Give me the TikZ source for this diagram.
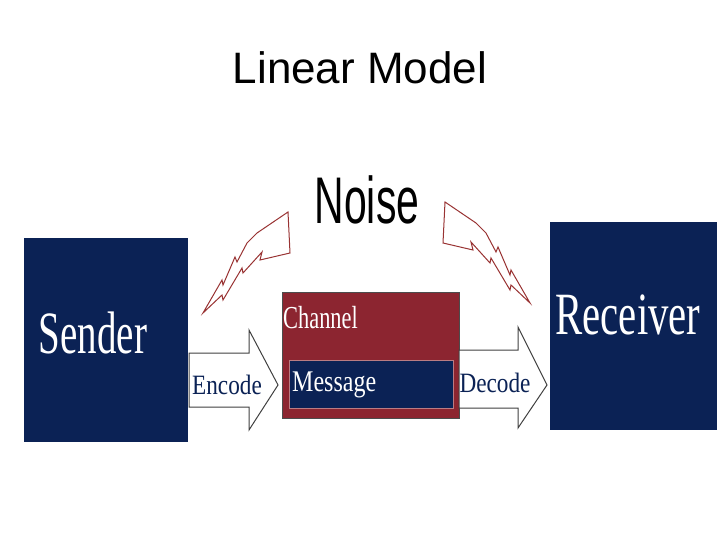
\documentclass[tikz,border=0pt]{standalone}
\usepackage{fontspec}
\setmainfont{Liberation Serif}
\newfontfamily\sansf{Liberation Sans}
\begin{document}
\begin{tikzpicture}[x=1pt,y=-1pt,
  box/.style={draw=black!70,line width=1pt},
  arr/.style={draw=black!75,line width=1pt,fill=white},
  bolt/.style={draw=red!50!black!80,line width=1pt,fill=white},
  wtxt/.style={text=white,inner sep=0pt}]
\definecolor{navy}{HTML}{0B2255}
\definecolor{wine}{HTML}{8C2530}
\useasboundingbox (0,0) rectangle (720,540);
\node[inner sep=0pt] (title) at (360,68) {\sansf\fontsize{44}{46}\selectfont Linear Model};
\node[inner sep=0pt] (noise) at (367,200) {\scalebox{0.62}[1]{\sansf\fontsize{66}{68}\selectfont Noise}};
% boxes
\fill[navy] (24,238) rectangle (188,442);
\node[wtxt] (sender) at (93,333) {\scalebox{0.65}[1]{\fontsize{60}{62}\selectfont Sender}};
\fill[navy] (550,222) rectangle (717,430);
\node[wtxt] (receiver) at (628,315) {\scalebox{0.68}[1]{\fontsize{60}{62}\selectfont Receiver}};
\draw[box,fill=wine] (282,292) rectangle (459,418);
\node[wtxt,anchor=west] (channel) at (283,318) {\scalebox{0.7}[1]{\fontsize{32}{34}\selectfont Channel}};
\draw[fill=navy,draw=wine!60] (289,360) rectangle (453,408);
\node[wtxt,anchor=west] (message) at (292,385) {\scalebox{0.8}[1]{\fontsize{30}{32}\selectfont Message}};
% arrows
\draw[arr] (189,353) -- (249,353) -- (249,330) -- (278,385) -- (249,430) -- (249,407) -- (189,407) -- cycle;
\node[inner sep=0pt,text=navy] (encode) at (227,385) {\scalebox{0.83}[1]{\fontsize{28}{30}\selectfont Encode}};
\draw[arr] (459,350) -- (518,350) -- (518,327) -- (547,385) -- (518,428) -- (518,408) -- (459,408) -- cycle;
\node[inner sep=0pt,text=navy] (decode) at (495,383) {\scalebox{0.83}[1]{\fontsize{28}{30}\selectfont Decode}};
% bolts
\draw[bolt] (203,313) -- (222,280) -- (223,285) -- (235,257) -- (237,262) -- (247,243) -- (257,233) -- (288,212)
  -- (290,253) -- (260,260) -- (262,252) -- (243,273) -- (242,268) -- (223,300) -- (222,295) -- cycle;
\draw[bolt] (530,303) -- (511,270) -- (510,275) -- (498,247) -- (496,252) -- (486,233) -- (476,223) -- (445,202)
  -- (443,243) -- (473,250) -- (471,242) -- (490,263) -- (491,258) -- (510,290) -- (511,285) -- cycle;
\end{tikzpicture}
\end{document}
